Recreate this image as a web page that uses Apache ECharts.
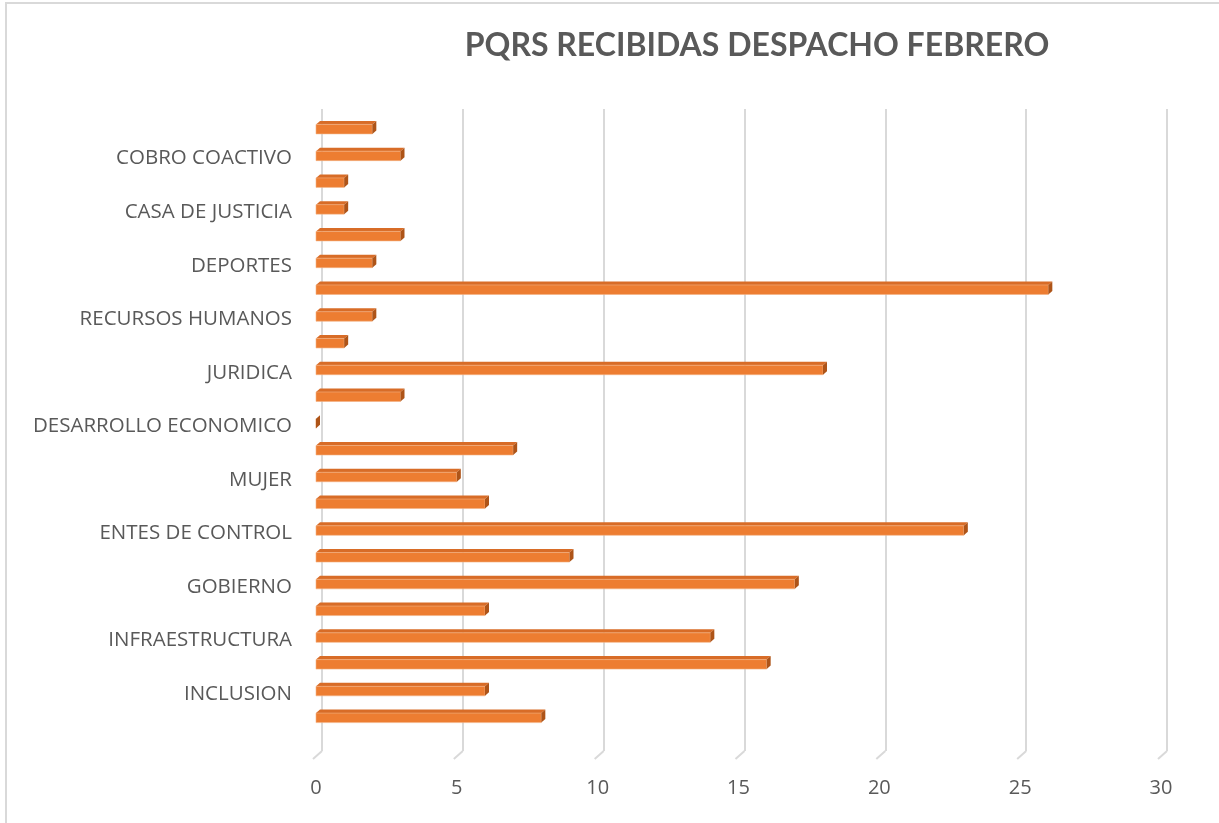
<!DOCTYPE html>
<html>
  <head>
    <meta charset="utf-8" />
    <title>PQRS recibidas despacho febrero</title>
    <script src="https://cdn.jsdelivr.net/npm/echarts@6/dist/echarts.min.js"></script>
    <style>
      * { margin: 0; padding: 0; }
      html, body, #container { width: 100%; height: 100%; background: #fff; }
    </style>
  </head>
  <body>
    <div id="container"></div>
    <script>
      // de abajo hacia arriba; las barras sin etiqueta visible van con ''
      const categories = [
        '', 'INCLUSION', '', 'INFRAESTRUCTURA', '', 'GOBIERNO', '', 'ENTES DE CONTROL',
        '', 'MUJER', '', 'DESARROLLO ECONOMICO', '', 'JURIDICA', '', 'RECURSOS HUMANOS',
        '', 'DEPORTES', '', 'CASA DE JUSTICIA', '', 'COBRO COACTIVO', ''
      ];
      const values = [8, 6, 16, 14, 6, 17, 9, 23, 6, 5, 7, 0, 3, 18, 1, 2, 26, 2, 3, 1, 1, 3, 2];
      const ticks = [0, 5, 10, 15, 20, 25, 30];

      const textColor = '#595959';
      const font = 'Open Sans';

      const chart = echarts.init(document.getElementById('container'));

      // barra con cara frontal, superior y lateral (efecto 3D)
      const renderBar = (params, api) => {
        const v = api.value(0);
        const c = api.value(1);
        const a = api.coord([0, c]);
        const b = api.coord([v, c]);
        const x0 = a[0], x1 = b[0], cy = a[1];
        const d = 4;
        const top = cy - 3, bot = cy + 6.5;
        return {
          type: 'group',
          children: [
            {
              type: 'polygon',
              shape: { points: [[x0, top], [x1, top], [x1 + d, top - 3.5], [x0 + d, top - 3.5]] },
              style: { fill: '#d86c27' }
            },
            {
              type: 'rect',
              shape: { x: x0, y: top, width: x1 - x0, height: bot - top },
              style: { fill: '#ED7D31', stroke: '#f4b183', lineWidth: 0.6 }
            },
            {
              type: 'polygon',
              shape: { points: [[x1, top], [x1 + d, top - 3.5], [x1 + d, bot - 3.5], [x1, bot]] },
              style: { fill: '#ae5418' }
            }
          ]
        };
      };

      // tramo diagonal del piso al pie de cada línea de división
      const renderFloor = (params, api) => {
        const p = api.coord([api.value(0), 0]);
        return {
          type: 'line',
          shape: { x1: p[0], y1: p[1], x2: p[0] - 9, y2: p[1] + 8 },
          style: { stroke: '#d9d9d9', lineWidth: 2 }
        };
      };

      chart.setOption({
        animation: false,
        title: {
          text: 'PQRS RECIBIDAS DESPACHO FEBRERO',
          left: 752,
          top: 25,
          textAlign: 'center',
          textStyle: { color: textColor, fontFamily: 'Lato', fontWeight: 'bold', fontSize: 32 }
        },
        graphic: [
          {
            type: 'polyline',
            shape: { points: [[6, 823], [6, 3], [1219, 3]] },
            style: { stroke: '#d9d9d9', lineWidth: 2, fill: null }
          }
        ],
        grid: [
          { left: 322, right: 52, top: 109, bottom: 72 },
          { left: 316, right: 58, top: 114, bottom: 93.5 }
        ],
        xAxis: [
          {
            gridIndex: 0, type: 'value', min: 0, max: 30, interval: 5,
            axisLine: { show: false }, axisTick: { show: false }, axisLabel: { show: false },
            splitLine: { lineStyle: { color: '#d9d9d9', width: 2 } }
          },
          {
            gridIndex: 1, type: 'value', min: 0, max: 30, interval: 5,
            axisLine: { show: false }, axisTick: { show: false },
            splitLine: { show: false },
            axisLabel: {
              margin: 49, color: textColor, fontFamily: font, fontSize: 20,
              customValues: ticks
            }
          }
        ],
        yAxis: [
          { gridIndex: 0, type: 'value', min: 0, max: 1, show: false },
          {
            gridIndex: 1, type: 'category', data: categories,
            axisLine: { show: false }, axisTick: { show: false },
            axisLabel: {
              interval: (i) => i % 2 === 1,
              margin: 24,
              formatter: (v) => '{a|' + v + '}',
              rich: {
                a: { color: textColor, fontFamily: font, fontSize: 20.5, padding: [9, 0, 0, 0] }
              }
            }
          }
        ],
        series: [
          {
            type: 'custom', xAxisIndex: 0, yAxisIndex: 0,
            data: ticks.map((t) => [t]),
            encode: { x: 0 },
            renderItem: renderFloor,
            silent: true
          },
          {
            type: 'custom', xAxisIndex: 1, yAxisIndex: 1,
            data: values.map((v, i) => [v, i]),
            encode: { x: 0, y: 1 },
            renderItem: renderBar
          }
        ]
      });
    </script>
  </body>
</html>
